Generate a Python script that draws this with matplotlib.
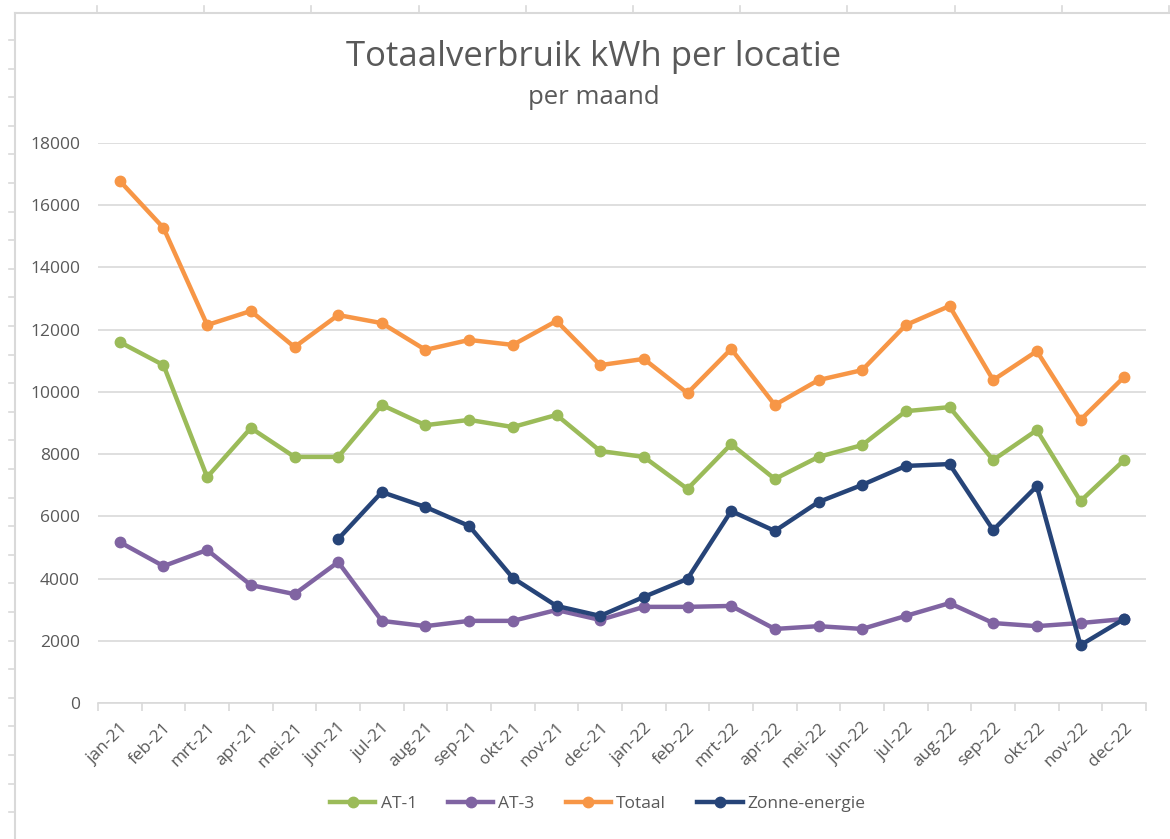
import matplotlib.pyplot as plt
import numpy as np
from matplotlib.lines import Line2D

months = ["jan-21", "feb-21", "mrt-21", "apr-21", "mei-21", "jun-21", "jul-21", "aug-21",
          "sep-21", "okt-21", "nov-21", "dec-21", "jan-22", "feb-22", "mrt-22", "apr-22",
          "mei-22", "jun-22", "jul-22", "aug-22", "sep-22", "okt-22", "nov-22", "dec-22"]

at1 = [11600, 10860, 7260, 8840, 7910, 7910, 9580, 8930, 9100, 8870, 9260, 8100,
       7910, 6880, 8320, 7200, 7910, 8290, 9380, 9510, 7810, 8770, 6490, 7810]
at3 = [5170, 4400, 4920, 3790, 3500, 4530, 2640, 2470, 2640, 2640, 2990, 2670,
       3090, 3090, 3120, 2380, 2470, 2380, 2800, 3210, 2570, 2470, 2570, 2700]
totaal = [16780, 15270, 12150, 12600, 11440, 12470, 12210, 11350, 11670, 11510, 12280, 10860,
          11060, 9960, 11380, 9580, 10380, 10700, 12150, 12760, 10380, 11310, 9100, 10480]
zonne = [np.nan, np.nan, np.nan, np.nan, np.nan, 5270, 6780, 6300, 5690, 4020, 3120, 2800,
         3410, 3990, 6170, 5530, 6460, 7010, 7620, 7680, 5560, 6970, 1860, 2700]

plt.rcParams['font.family'] = ['Open Sans', 'DejaVu Sans']
txt = '#595959'
W, H = 1170, 839

fig = plt.figure(figsize=(W / 100, H / 100), dpi=100)
ax = fig.add_axes([98 / W, (H - 703) / H, (1146 - 98) / W, (703 - 143) / H])

x = np.arange(len(months))
series = [("AT-1", at1, '#9BBB59'), ("AT-3", at3, '#8064A2'),
          ("Totaal", totaal, '#F79646'), ("Zonne-energie", zonne, '#264478')]
for name, vals, col in series:
    ax.plot(x, vals, color=col, lw=3.2, marker='o', ms=7.5, label=name, zorder=3)

ax.set_xlim(-0.5, len(months) - 0.5)
ax.set_ylim(0, 18000)
ax.set_yticks(np.arange(0, 18001, 2000))
ax.yaxis.grid(True, color='#D9D9D9', lw=1.2)
ax.set_axisbelow(True)
for s in ['top', 'right', 'left']:
    ax.spines[s].set_visible(False)
ax.spines['bottom'].set_color('#D9D9D9')
ax.spines['bottom'].set_linewidth(1.2)

ax.set_xticks(x)
ax.set_xticklabels(months, rotation=45, ha='right', rotation_mode='anchor')
ax.set_xticks(np.arange(-0.5, len(months), 1), minor=True)
ax.tick_params(axis='x', which='major', length=0, pad=12, labelsize=12.5, labelcolor=txt)
ax.tick_params(axis='x', which='minor', length=6, color='#D9D9D9', width=1.2)
ax.tick_params(axis='y', length=0, pad=13, labelsize=12.5, labelcolor=txt)

fig.text(594 / W, 1 - 66 / H, "Totaalverbruik kWh per locatie", ha='center', va='baseline',
         fontsize=25, color=txt)
fig.text(594 / W, 1 - 104 / H, "per maand", ha='center', va='baseline', fontsize=18.5, color=txt)

ax.legend(loc='center', bbox_to_anchor=(598 / W, 1 - 804 / H), bbox_transform=fig.transFigure,
          ncol=4, frameon=False, fontsize=12.5, labelcolor=txt, handlelength=2.6,
          columnspacing=1.8, handletextpad=0.3)

# sheet edge around the chart
edge = '#D9D9D9'
fig.add_artist(Line2D([15 / W, 15 / W], [0, 1 - 13 / H], color=edge, lw=1.5, transform=fig.transFigure))
fig.add_artist(Line2D([15 / W, 1], [1 - 13 / H, 1 - 13 / H], color=edge, lw=1.5, transform=fig.transFigure))
for xp in np.arange(97, W, 107.2):
    fig.add_artist(Line2D([xp / W, xp / W], [1 - 13 / H, 1 - 6 / H], color=edge, lw=1.2,
                          transform=fig.transFigure))
for yp in np.arange(40, H, 28.6):
    fig.add_artist(Line2D([9 / W, 15 / W], [1 - yp / H, 1 - yp / H], color=edge, lw=1.2,
                          transform=fig.transFigure))

fig.savefig('out.png', dpi=100)
